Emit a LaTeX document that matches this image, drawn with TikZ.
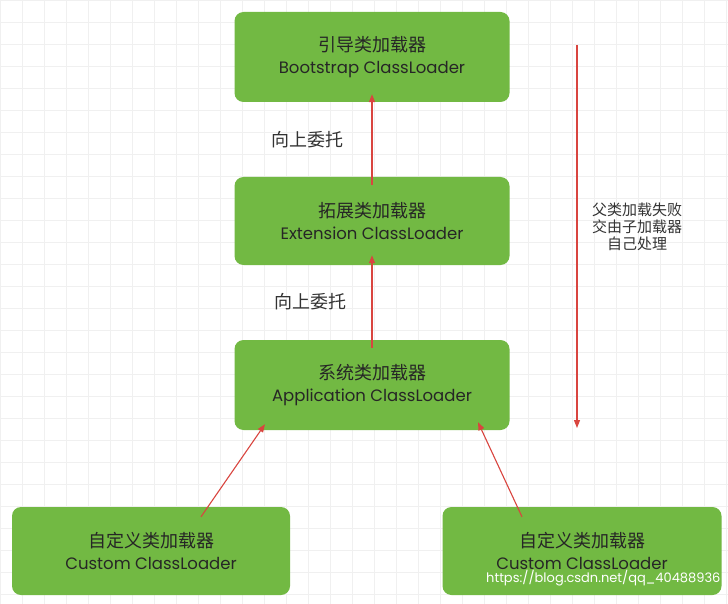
\documentclass[tikz,border=0pt]{standalone}
\usepackage{fontspec}
\setmainfont{Poppins}
\newfontfamily\cjk{Noto Sans CJK SC}
\usetikzlibrary{arrows.meta}
\definecolor{boxg}{HTML}{72B943}
\definecolor{arr}{HTML}{D9453F}
\definecolor{gridc}{HTML}{F0F0F0}
\begin{document}
\begin{tikzpicture}[x=1pt,y=-1pt,
  cbox/.style={fill=boxg,rounded corners=9pt,text=black!85,align=center,font=\fontsize{16.5}{22}\selectfont,inner sep=0pt},
  redarr/.style={draw=arr,line width=1.1pt,-{Triangle[length=8pt,width=6pt]}},
  lbl/.style={font=\cjk\fontsize{18}{20}\selectfont,text=black!80,align=center}]
\fill[white] (0,0) rectangle (728,604);
\useasboundingbox (0,0) rectangle (728,604);
\foreach \i in {0,22,...,728} \draw[gridc,line width=0.4pt] (\i,0) -- (\i,604);
\foreach \j in {0,22,...,604} \draw[gridc,line width=0.4pt] (0,\j) -- (728,\j);
\node[cbox,minimum width=275pt,minimum height=90pt] (boot) at (372,57) {{\cjk\fontsize{18}{22}\selectfont 引导类加载器}\\Bootstrap ClassLoader};
\node[cbox,minimum width=275pt,minimum height=88pt] (ext) at (372,221) {{\cjk\fontsize{18}{22}\selectfont 拓展类加载器}\\Extension ClassLoader};
\node[cbox,minimum width=275pt,minimum height=90pt] (app) at (372,385) {{\cjk\fontsize{18}{22}\selectfont 系统类加载器}\\Application ClassLoader};
\node[cbox,minimum width=278pt,minimum height=88pt] (c1) at (151,551) {{\cjk\fontsize{18}{22}\selectfont 自定义类加载器}\\Custom ClassLoader};
\node[cbox,minimum width=279pt,minimum height=88pt] (c2) at (582,551) {{\cjk\fontsize{18}{22}\selectfont 自定义类加载器}\\Custom ClassLoader};
\draw[redarr] ([yshift=-8pt]ext.north) -- ([yshift=8pt]boot.south);
\draw[redarr] ([yshift=-8pt]app.north) -- ([yshift=10pt]ext.south);
\draw[redarr] ([xshift=50pt,yshift=-10pt]c1.north) -- ([xshift=-107pt,yshift=6pt]app.south);
\draw[redarr] ([xshift=-60pt,yshift=-10pt]c2.north) -- ([xshift=106pt,yshift=8pt]app.south);
\node[lbl] (l1) at (307,140) {向上委托};
\node[lbl] (l2) at (310,302) {向上委托};
\coordinate (ta) at (577,45);
\coordinate (tb) at (577,428);
\draw[redarr] (ta) -- (tb);
\node[lbl,font=\cjk\fontsize{15}{17}\selectfont] (l3) at (637,227) {父类加载失败\\交由子加载器\\自己处理};
\node[font=\fontsize{13}{15}\selectfont,text=white,anchor=east] (wm) at (724,578) {https://blog.csdn.net/qq\_40488936};
\end{tikzpicture}
\end{document}
